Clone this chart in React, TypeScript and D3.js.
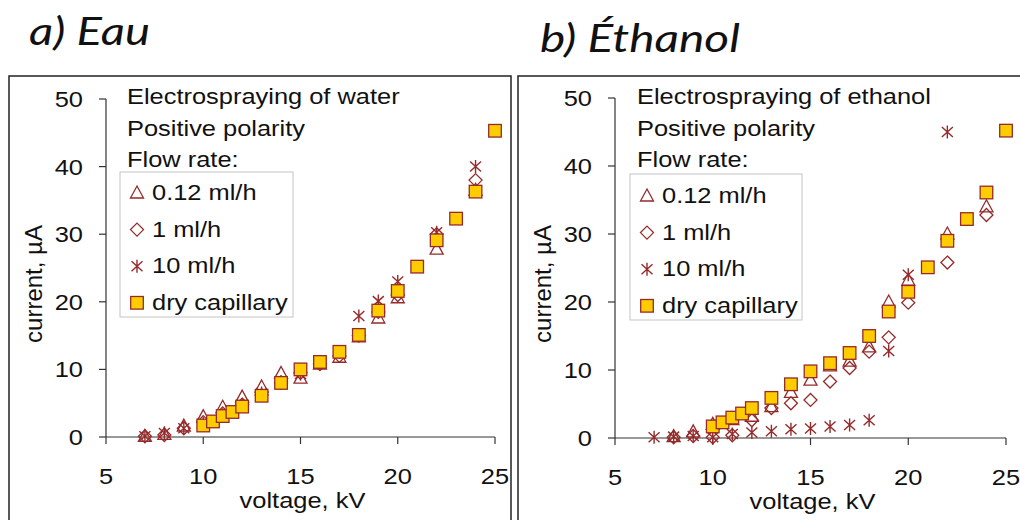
import React from 'react';
import * as d3 from 'd3';

// water, positive polarity
const waterTriV = [7, 8, 9, 10, 11, 12, 13, 14, 15, 16, 17, 18, 19, 20, 22, 24];
const waterTriI = [0.1, 0.4, 1.6, 3.0, 4.4, 5.9, 7.4, 9.4, 8.7, 10.8, 11.8, 14.8, 17.6, 20.6, 27.8, 36.5];
const waterDiaV = [7, 8, 9, 10, 11, 12, 13, 14, 15, 16, 17, 18, 19, 20, 22, 24];
const waterDiaI = [0.1, 0.3, 1.3, 2.2, 3.5, 4.8, 6.2, 8.0, 9.5, 10.8, 12.0, 15.0, 18.5, 21.0, 30.0, 38.0];
const waterStarV = [7, 8, 9, 10, 11, 12, 13, 14, 15, 16, 17, 18, 19, 20, 22, 24];
const waterStarI = [0.1, 0.6, 1.3, 2.0, 3.3, 4.8, 6.5, 8.2, 9.3, 11.0, 12.5, 17.9, 20.1, 23.0, 30.3, 40.0];
const waterSqV = [10, 10.5, 11, 11.5, 12, 13, 14, 15, 16, 17, 18, 19, 20, 21, 22, 23, 24, 25];
const waterSqI = [1.7, 2.3, 3.1, 3.7, 4.5, 6.1, 8.0, 10.0, 11.1, 12.6, 15.1, 18.7, 21.6, 25.2, 29.1, 32.3, 36.3, 45.3];

// ethanol, positive polarity
const ethTriV = [8, 9, 10, 11, 12, 13, 14, 15, 16, 17, 18, 19, 20, 22, 24];
const ethTriI = [0.2, 0.9, 2.0, 2.7, 3.2, 4.6, 6.7, 8.5, 10.6, 11.3, 13.4, 20.0, 23.2, 30.0, 34.0];
const ethDiaV = [8, 9, 10, 11, 12, 13, 14, 15, 16, 17, 18, 19, 20, 22, 24];
const ethDiaI = [0.1, 0.3, 0.1, 0.4, 2.6, 4.4, 5.1, 5.6, 8.3, 10.3, 12.7, 14.8, 19.9, 25.8, 32.8];
const ethStarV = [7, 8, 9, 10, 11, 12, 13, 14, 15, 16, 17, 18, 19, 20, 22];
const ethStarI = [0.1, 0.2, 0.3, 0.1, 0.6, 0.8, 1.0, 1.3, 1.4, 1.7, 1.9, 2.6, 12.8, 24.0, 45.0];
const ethSqV = [10, 10.5, 11, 11.5, 12, 13, 14, 15, 16, 17, 18, 19, 20, 21, 22, 23, 24, 25];
const ethSqI = [1.7, 2.3, 3.0, 3.6, 4.4, 5.9, 7.9, 9.8, 11.0, 12.5, 15.0, 18.6, 21.5, 25.1, 29.0, 32.2, 36.1, 45.2];

const xTicks = [5, 10, 15, 20, 25];
const yTicks = [0, 10, 20, 30, 40, 50];
const legendLabels = ['0.12 ml/h', '1 ml/h', '10 ml/h', 'dry capillary'];

const RED = '#952a2a';
const GOLD = '#ffcc00';
const FONT = '"Liberation Sans", Arial, sans-serif';
const SX = 1.14; // the source picture is stretched sideways a little

type Shape = 'tri' | 'dia' | 'star' | 'sq';

const Marker = ({ shape, x, y }: { shape: Shape; x: number; y: number }) => {
  if (shape === 'tri') {
    return <path d={`M${x},${y - 7}L${x + 6.5},${y + 5}L${x - 6.5},${y + 5}Z`} fill="none" stroke={RED} strokeWidth={1.3} />;
  }
  if (shape === 'dia') {
    return <path d={`M${x},${y - 6.5}L${x + 6.5},${y}L${x},${y + 6.5}L${x - 6.5},${y}Z`} fill="none" stroke={RED} strokeWidth={1.3} />;
  }
  if (shape === 'star') {
    return (
      <path
        d={`M${x},${y - 6.5}L${x},${y + 6.5}M${x - 5.5},${y - 5}L${x + 5.5},${y + 5}M${x - 5.5},${y + 5}L${x + 5.5},${y - 5}`}
        stroke={RED}
        strokeWidth={1.4}
        fill="none"
      />
    );
  }
  return <rect x={x - 6.3} y={y - 6.3} width={12.6} height={12.6} fill={GOLD} stroke={RED} strokeWidth={1.3} />;
};

const Txt = ({ x, y, children, anchor = 'start' }: any) => (
  <text
    transform={`translate(${x},${y}) scale(${SX},1)`}
    textAnchor={anchor}
    fontFamily={FONT}
    fontSize={22.3}
    fill="#111"
  >
    {children}
  </text>
);

interface PanelProps {
  left: number;
  width: number;
  title: string;
  titleX: number;
  titleY: number;
  titleLen: number;
  liquid: string;
  x0: number;
  x1: number;
  y0: number;
  y1: number;
  legBox: [number, number, number, number];
  legBase: number;
  series: { shape: Shape; v: number[]; i: number[] }[];
}

const Panel = (p: PanelProps) => {
  const x = d3.scaleLinear().domain([5, 25]).range([p.x0, p.x1]);
  const y = d3.scaleLinear().domain([0, 50]).range([p.y0, p.y1]);
  const [bx, by, bw, bh] = p.legBox;
  const shapes: Shape[] = ['tri', 'dia', 'star', 'sq'];
  return (
    <g>
      <rect x={p.left} y={76} width={p.width} height={470} fill="#fff" stroke="#222" strokeWidth={1.5} />
      <text
        x={p.titleX}
        y={p.titleY}
        fontFamily="Lato, 'Open Sans', sans-serif"
        fontStyle="italic"
        fontSize={38}
        textLength={p.titleLen}
        lengthAdjust="spacingAndGlyphs"
        fill="#111"
      >
        {p.title}
      </text>

      {/* axes */}
      <line x1={p.x0} x2={p.x0} y1={y(50)} y2={y(0)} stroke="#333" strokeWidth={1.2} />
      <line x1={p.x0} x2={p.x1} y1={y(0)} y2={y(0)} stroke="#333" strokeWidth={1.2} />
      {yTicks.map((t) => (
        <g key={'y' + t}>
          <line x1={p.x0 - 7} x2={p.x0} y1={y(t)} y2={y(t)} stroke="#333" strokeWidth={1.2} />
          <Txt x={p.x0 - 23} y={y(t) + 8} anchor="end">{t}</Txt>
        </g>
      ))}
      {xTicks.map((t) => (
        <g key={'x' + t}>
          <line x1={x(t)} x2={x(t)} y1={y(0)} y2={y(0) + 7} stroke="#333" strokeWidth={1.2} />
          <Txt x={x(t)} y={y(0) + 47} anchor="middle">{t}</Txt>
        </g>
      ))}
      <Txt x={(p.x0 + p.x1) / 2 + 2} y={y(0) + 71} anchor="middle">voltage, kV</Txt>
      <text
        transform={`translate(${p.left + 33},${284}) rotate(-90)`}
        textAnchor="middle"
        fontFamily={FONT}
        fontSize={24}
        fill="#111"
      >
        current, µA
      </text>

      {/* notes */}
      <Txt x={bx + 7} y={104}>{'Electrospraying of ' + p.liquid}</Txt>
      <Txt x={bx + 7} y={135.5}>Positive polarity</Txt>
      <Txt x={bx + 7} y={167}>Flow rate:</Txt>

      {/* legend */}
      <rect x={bx} y={by} width={bw} height={bh} fill="#fff" stroke="#c4c4c4" strokeWidth={1} />
      {legendLabels.map((l, k) => (
        <g key={l}>
          <Marker shape={shapes[k]} x={bx + 17} y={p.legBase + k * 36.6 - 7} />
          <Txt x={bx + 32} y={p.legBase + k * 36.6}>{l}</Txt>
        </g>
      ))}

      {/* data */}
      {p.series.map((s) => (
        <g key={s.shape}>
          {s.v.map((v, k) => (
            <Marker key={k} shape={s.shape} x={x(v)} y={y(s.i[k])} />
          ))}
        </g>
      ))}
    </g>
  );
};

export default function App() {
  return (
    <svg width={1020} height={520} style={{ position: 'absolute', left: 0, top: 0, background: '#fff' }}>
      <rect width={1020} height={520} fill="#fff" />
      <Panel
        left={9}
        width={502}
        title="a) Eau"
        titleX={29}
        titleY={45}
        titleLen={121}
        liquid="water"
        x0={106}
        x1={495}
        y0={437}
        y1={99}
        legBox={[120, 172, 173, 145]}
        legBase={200}
        series={[
          { shape: 'tri', v: waterTriV, i: waterTriI },
          { shape: 'dia', v: waterDiaV, i: waterDiaI },
          { shape: 'star', v: waterStarV, i: waterStarI },
          { shape: 'sq', v: waterSqV, i: waterSqI },
        ]}
      />
      <Panel
        left={518}
        width={520}
        title="b) Éthanol"
        titleX={540}
        titleY={52}
        titleLen={200}
        liquid="ethanol"
        x0={615}
        x1={1006}
        y0={438}
        y1={98}
        legBox={[630, 174, 172, 146]}
        legBase={203}
        series={[
          { shape: 'tri', v: ethTriV, i: ethTriI },
          { shape: 'dia', v: ethDiaV, i: ethDiaI },
          { shape: 'star', v: ethStarV, i: ethStarI },
          { shape: 'sq', v: ethSqV, i: ethSqI },
        ]}
      />
    </svg>
  );
}
